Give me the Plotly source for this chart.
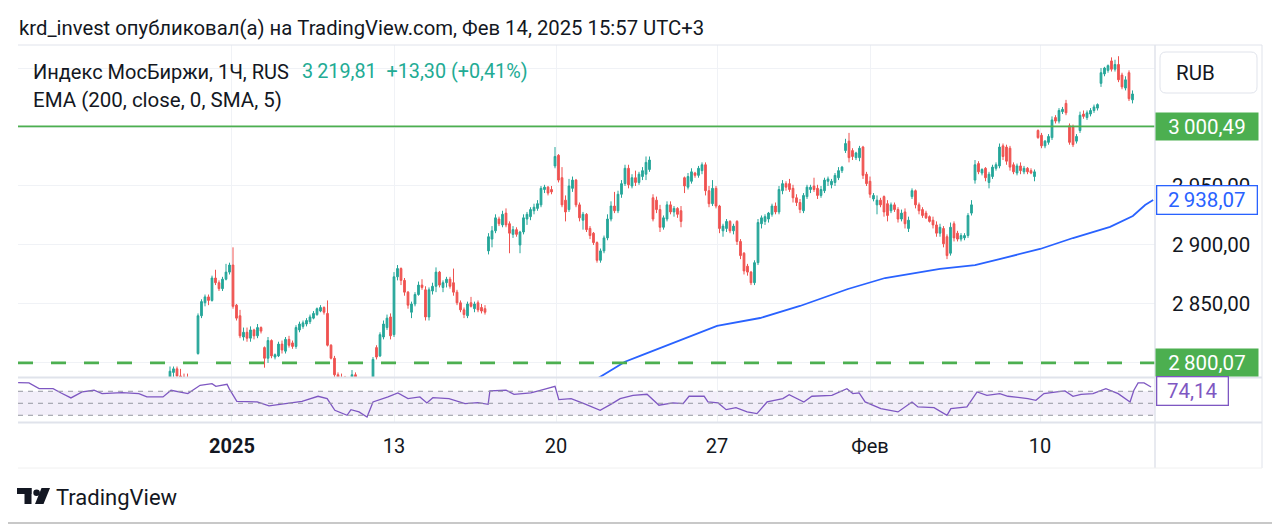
import plotly.graph_objects as go

W, H = 1280, 526
OFF = 8                     # default page margin around the plot div
FW, FH = W - OFF, H - OFF   # figure size that fits the window

# ---------------- data (hourly candles) ----------------
opens = [
    2785, 2792, 2795, 2789, 2788, 2786, 2784, 2778, 2808, 2840,
    2851, 2856, 2853, 2872, 2868, 2863, 2871, 2877, 2883, 2849,
    2840, 2822, 2826, 2821, 2828, 2823, 2830, 2813, 2804, 2819,
    2805, 2806, 2816, 2810, 2820, 2817, 2814, 2828, 2831, 2833,
    2835, 2838, 2841, 2844, 2847, 2842, 2815, 2804, 2790, 2785,
    2783, 2776, 2781, 2790, 2786, 2778, 2782, 2776, 2780, 2813,
    2806, 2822, 2830, 2839, 2824, 2873, 2880, 2870, 2860, 2843,
    2850, 2858, 2866, 2862, 2839, 2861, 2865, 2877, 2864, 2868,
    2871, 2868, 2860, 2851, 2845, 2840, 2851, 2846, 2851, 2847,
    2846, 2895, 2905, 2912, 2922, 2917, 2927, 2918, 2909, 2913,
    2900, 2911, 2922, 2924, 2929, 2931, 2934, 2947, 2949, 2947,
    2967, 2976, 2957, 2938, 2930, 2948, 2955, 2934, 2921, 2926,
    2914, 2910, 2902, 2887, 2895, 2906, 2922, 2933, 2929, 2943,
    2952, 2965, 2950, 2957, 2953, 2958, 2960, 2964, 2940, 2938,
    2930, 2915, 2922, 2934, 2928, 2931, 2929, 2957, 2949, 2954,
    2961, 2959, 2963, 2968, 2946, 2935, 2948, 2933, 2912, 2914,
    2920, 2912, 2920, 2903, 2893, 2882, 2877, 2868, 2885, 2918,
    2920, 2922, 2926, 2933, 2928, 2946, 2952, 2952, 2948, 2940,
    2936, 2929, 2941, 2947, 2950, 2948, 2942, 2946, 2954, 2951,
    2953, 2957, 2963, 2980, 2988, 2980, 2974, 2974, 2983, 2960,
    2954, 2939, 2934, 2938, 2941, 2935, 2929, 2934, 2930, 2922,
    2928, 2914, 2941, 2946, 2934, 2930, 2927, 2924, 2921, 2917,
    2910, 2914, 2907, 2893, 2918, 2910, 2905, 2906, 2908, 2927,
    2955, 2969, 2961, 2965, 2953, 2958, 2965, 2967, 2984, 2983,
    2982, 2968, 2961, 2967, 2962, 2965, 2963, 2958, 2997, 2993,
    2984, 2987, 2991, 3008, 3005, 3013, 3020, 3001, 3000, 2988,
    2997, 3011, 3008, 3011, 3014, 3016, 3037, 3045, 3048, 3056,
    3049, 3053, 3044, 3033, 3046, 3023,
]
highs = [
    2797, 2797, 2797, 2795, 2791, 2791, 2786, 2786, 2842, 2854,
    2858, 2858, 2874, 2879, 2870, 2873, 2884, 2885, 2898, 2850,
    2845, 2830, 2830, 2831, 2829, 2833, 2831, 2814, 2822, 2820,
    2808, 2818, 2819, 2822, 2823, 2819, 2832, 2835, 2836, 2838,
    2841, 2844, 2847, 2849, 2848, 2853, 2816, 2806, 2792, 2791,
    2789, 2784, 2794, 2792, 2788, 2785, 2786, 2784, 2805, 2815,
    2826, 2836, 2841, 2842, 2877, 2883, 2881, 2872, 2861, 2852,
    2860, 2869, 2871, 2865, 2864, 2868, 2881, 2878, 2870, 2873,
    2873, 2880, 2862, 2853, 2847, 2852, 2856, 2852, 2853, 2850,
    2849, 2910, 2916, 2926, 2924, 2929, 2931, 2920, 2916, 2915,
    2912, 2926, 2928, 2932, 2935, 2938, 2950, 2951, 2950, 2950,
    2983, 2977, 2966, 2942, 2956, 2958, 2956, 2936, 2928, 2927,
    2916, 2911, 2903, 2897, 2908, 2926, 2937, 2945, 2946, 2955,
    2968, 2968, 2960, 2963, 2962, 2966, 2975, 2975, 2943, 2941,
    2934, 2925, 2937, 2937, 2933, 2932, 2933, 2958, 2961, 2965,
    2962, 2967, 2970, 2970, 2950, 2955, 2950, 2934, 2918, 2922,
    2921, 2918, 2921, 2905, 2894, 2884, 2878, 2887, 2922, 2925,
    2926, 2928, 2935, 2936, 2950, 2955, 2954, 2956, 2951, 2943,
    2939, 2944, 2951, 2951, 2957, 2951, 2950, 2957, 2958, 2956,
    2961, 2966, 2967, 2990, 2995, 2982, 2979, 2984, 2984, 2962,
    2958, 2944, 2942, 2940, 2942, 2938, 2936, 2936, 2932, 2930,
    2931, 2924, 2948, 2947, 2936, 2932, 2929, 2925, 2924, 2920,
    2918, 2916, 2909, 2919, 2920, 2912, 2910, 2910, 2927, 2938,
    2972, 2971, 2965, 2966, 2962, 2968, 2970, 2986, 2986, 2985,
    2984, 2970, 2969, 2970, 2967, 2966, 2965, 2964, 2998, 2995,
    2989, 2994, 3009, 3010, 3016, 3017, 3023, 3003, 3002, 2994,
    3013, 3014, 3014, 3016, 3019, 3020, 3050, 3051, 3053, 3059,
    3057, 3060, 3046, 3043, 3048, 3031,
]
lows = [
    2783, 2788, 2786, 2784, 2780, 2782, 2775, 2774, 2807, 2838,
    2848, 2849, 2852, 2866, 2861, 2861, 2870, 2875, 2846, 2836,
    2821, 2819, 2818, 2818, 2820, 2821, 2825, 2796, 2800, 2804,
    2803, 2805, 2808, 2808, 2813, 2812, 2812, 2826, 2829, 2831,
    2833, 2837, 2840, 2843, 2841, 2814, 2803, 2788, 2780, 2778,
    2776, 2772, 2779, 2783, 2775, 2774, 2772, 2773, 2778, 2803,
    2805, 2820, 2828, 2820, 2822, 2870, 2866, 2857, 2846, 2838,
    2848, 2857, 2862, 2836, 2836, 2858, 2860, 2864, 2860, 2864,
    2863, 2857, 2849, 2843, 2838, 2838, 2847, 2843, 2843, 2842,
    2841, 2892, 2898, 2910, 2916, 2915, 2915, 2893, 2906, 2907,
    2893, 2909, 2917, 2921, 2926, 2929, 2932, 2944, 2942, 2943,
    2965, 2953, 2932, 2920, 2928, 2945, 2932, 2920, 2913, 2911,
    2905, 2900, 2885, 2885, 2893, 2904, 2920, 2927, 2927, 2940,
    2950, 2948, 2948, 2950, 2951, 2955, 2955, 2962, 2920, 2927,
    2911, 2913, 2920, 2926, 2924, 2923, 2915, 2944, 2947, 2952,
    2957, 2957, 2960, 2942, 2932, 2933, 2931, 2910, 2907, 2911,
    2910, 2909, 2900, 2888, 2875, 2874, 2866, 2866, 2883, 2914,
    2917, 2919, 2924, 2926, 2926, 2943, 2946, 2945, 2936, 2933,
    2927, 2927, 2939, 2944, 2945, 2939, 2940, 2944, 2950, 2948,
    2950, 2955, 2961, 2978, 2970, 2972, 2972, 2971, 2956, 2950,
    2940, 2937, 2926, 2932, 2924, 2920, 2927, 2928, 2919, 2920,
    2914, 2911, 2939, 2931, 2926, 2923, 2922, 2919, 2914, 2907,
    2907, 2898, 2888, 2891, 2903, 2903, 2903, 2904, 2906, 2925,
    2952, 2960, 2959, 2954, 2948, 2956, 2963, 2965, 2972, 2968,
    2963, 2960, 2959, 2960, 2960, 2960, 2960, 2954, 2990, 2982,
    2982, 2985, 2989, 3003, 3003, 3011, 3010, 2985, 2983, 2986,
    2995, 3007, 3006, 3009, 3012, 3014, 3034, 3043, 3046, 3047,
    3047, 3038, 3032, 3031, 3022, 3020,
]
closes = [
    2793, 2795, 2789, 2787, 2782, 2784, 2778, 2784, 2840, 2852,
    2856, 2853, 2872, 2868, 2863, 2871, 2877, 2883, 2848, 2838,
    2823, 2826, 2821, 2828, 2823, 2830, 2827, 2804, 2819, 2806,
    2807, 2816, 2811, 2820, 2815, 2814, 2830, 2833, 2834, 2836,
    2839, 2842, 2846, 2847, 2843, 2815, 2804, 2790, 2782, 2781,
    2779, 2781, 2790, 2786, 2778, 2782, 2776, 2780, 2803, 2805,
    2824, 2833, 2838, 2823, 2873, 2880, 2870, 2860, 2849, 2850,
    2858, 2866, 2864, 2839, 2862, 2865, 2877, 2866, 2868, 2871,
    2865, 2860, 2851, 2845, 2841, 2850, 2848, 2850, 2845, 2844,
    2843, 2907, 2912, 2923, 2918, 2926, 2917, 2910, 2913, 2909,
    2911, 2923, 2926, 2930, 2932, 2935, 2948, 2949, 2944, 2945,
    2975, 2955, 2934, 2928, 2950, 2955, 2934, 2923, 2926, 2913,
    2908, 2902, 2887, 2895, 2906, 2922, 2933, 2929, 2943, 2952,
    2965, 2951, 2957, 2953, 2960, 2963, 2970, 2972, 2922, 2930,
    2915, 2923, 2934, 2928, 2931, 2926, 2920, 2950, 2958, 2962,
    2959, 2965, 2968, 2946, 2935, 2948, 2933, 2914, 2916, 2920,
    2912, 2916, 2903, 2891, 2878, 2877, 2868, 2885, 2919, 2923,
    2924, 2927, 2933, 2928, 2947, 2952, 2949, 2947, 2940, 2936,
    2930, 2942, 2949, 2949, 2947, 2942, 2947, 2955, 2956, 2954,
    2959, 2963, 2966, 2986, 2974, 2975, 2978, 2982, 2959, 2952,
    2943, 2942, 2938, 2934, 2928, 2925, 2934, 2930, 2922, 2927,
    2918, 2921, 2946, 2934, 2929, 2925, 2923, 2920, 2917, 2910,
    2915, 2901, 2891, 2915, 2906, 2905, 2908, 2908, 2925, 2934,
    2968, 2962, 2964, 2957, 2960, 2966, 2968, 2983, 2975, 2971,
    2966, 2962, 2967, 2963, 2965, 2962, 2961, 2962, 2991, 2984,
    2988, 2992, 3006, 3005, 3014, 3015, 3012, 2987, 2985, 2992,
    3010, 3009, 3012, 3014, 3017, 3019, 3046, 3050, 3052, 3049,
    3053, 3040, 3034, 3040, 3024, 3028,
]

# EMA(200) line, read at a few bar positions
ema_bars = [120, 130, 134.3, 145.7, 156.3, 168.6, 180, 193.7, 204.3, 220,
            230, 237, 248.6, 258, 268.6, 275.1, 278.6, 280.9]
ema_vals = [2783, 2801, 2806, 2819.5, 2831.4, 2838.1, 2848.3, 2862.7, 2872, 2879.7,
            2883, 2888.1, 2896.6, 2905.9, 2915.3, 2924.6, 2933.9, 2938.07]

# RSI pane values
rsi_bars = [-43.4, -40.3, -37.4, -33.4, -31.1, -28.3, -25.1, -21.7, -19.4, -13.7,
            -8.9, -6.6, -2, 0.3, 5.1, 8.6, 12, 13.1, 16.3, 16.9,
            19.1, 24.9, 28.3, 33.1, 37.7, 42.3, 44.9, 47.1, 50.6, 51.7,
            54, 56.3, 58, 62.3, 65.1, 68, 71.4, 73.4, 75.1, 79.7,
            84.3, 88, 90.9, 91.4, 96, 98.3, 103.1, 106.6, 110, 111.1,
            114.6, 118.3, 122.9, 126.3, 128.6, 132.3, 136.3, 139.7, 143.7, 146.6,
            148.3, 152.6, 153.7, 156.6, 158.9, 161.7, 164.9, 167.7, 170.6, 175.1,
            176.9, 181.1, 183.4, 189.1, 193.4, 195.1, 196.9, 198.6, 203.1, 208,
            212, 213.7, 218.3, 222, 223.1, 227.7, 230.6, 233.4, 237.1, 239.4,
            241.7, 245.1, 247.4, 249.7, 253.4, 255.7, 258, 260.3, 263.7, 267.4,
            270.9, 274.3, 275.4, 276.6, 278.3, 280.3]
rsi_vals = [84.4, 83.9, 74.4, 74.4, 67.2, 58.9, 68.9, 71.7, 66.1, 67.8,
            66.1, 60.6, 60.6, 71.7, 66.1, 80, 82.8, 78.3, 81.7, 74.4,
            53.3, 52.2, 45.6, 49.4, 53.3, 61.7, 57.8, 38.3, 30, 39.4,
            35.6, 27.2, 52.2, 60.6, 67.2, 57.8, 60.6, 50.6, 59.4, 57.8,
            49.4, 51.1, 48.3, 70.6, 71.7, 65, 67.2, 72.8, 78.3, 56.1,
            57.8, 49.4, 38.3, 49.4, 57.8, 63.3, 65, 46.7, 50.6, 49.4,
            61.7, 61.7, 52.2, 50.6, 39.4, 42.8, 35.6, 32.8, 52.2, 57.8,
            64.4, 52.2, 61.7, 63.3, 74.4, 66.1, 67.2, 52.2, 41.1, 35.6,
            52.2, 43.9, 42.8, 30, 41.1, 43.9, 68.9, 63.3, 66.1, 61.7,
            60.6, 57.8, 55, 66.1, 68.9, 70.6, 61.7, 65, 66.1, 74.4,
            66.1, 52.2, 71.7, 83.9, 83.9, 77.2]

rsi_levels = [70, 50, 30]

tick_bars = [17.7, 64, 110.3, 156.3, 200, 248.6]
tick_text = ["<b>2025</b>", "13", "20", "27", "Фев", "10"]

price_ticks = [2800, 2850, 2900, 2950, 3000, 3050]
# labels at 2800 / 3000 / 3050 sit under the level boxes and the RUB box
price_tick_text = ["", "2 850,00", "2 900,00", "2 950,00", "", ""]
level_top = 3000.49
level_bottom = 2800.07

# ---------------- style ----------------
FONT = "Roboto"
TXT = "#131722"
UP = "#26a69a"
DOWN = "#ef5350"
GREEN = "#4caf50"
BLUE = "#2962ff"
PURPLE = "#7e57c2"
GRID = "#f0f2f6"
BORDER = "#e0e3eb"
FS = 20.5


def px(x):
    """window pixel -> paper fraction (x)"""
    return (x - OFF) / FW


def py(y):
    """window pixel -> paper fraction (y)"""
    return 1 - (y - OFF) / FH


bars = list(range(len(closes)))

fig = go.Figure()
fig.add_trace(go.Candlestick(
    x=bars, open=opens, high=highs, low=lows, close=closes,
    increasing=dict(line=dict(color=UP, width=1), fillcolor=UP),
    decreasing=dict(line=dict(color=DOWN, width=1), fillcolor=DOWN),
    whiskerwidth=0, showlegend=False, hoverinfo="skip",
    xaxis="x", yaxis="y",
))
fig.add_trace(go.Scatter(
    x=ema_bars, y=ema_vals, mode="lines",
    line=dict(color=BLUE, width=1.8), showlegend=False, hoverinfo="skip",
    xaxis="x", yaxis="y",
))
fig.add_trace(go.Scatter(
    x=rsi_bars, y=rsi_vals, mode="lines",
    line=dict(color=PURPLE, width=1.3), showlegend=False, hoverinfo="skip",
    xaxis="x2", yaxis="y2",
))

x_lo = (18 - 170) / 3.5
x_hi = (1155 - 170) / 3.5

shapes = []
# RSI band and level lines
shapes.append(dict(type="rect", xref="x2 domain", yref="y2", x0=0, x1=1,
                   y0=rsi_levels[2], y1=rsi_levels[0],
                   fillcolor="rgba(126,87,194,0.10)", line=dict(width=0),
                   layer="below"))
for lv in rsi_levels:
    shapes.append(dict(type="line", xref="x2 domain", yref="y2", x0=0, x1=1,
                       y0=lv, y1=lv, line=dict(color="#9598a1", width=1,
                                               dash="5px,5px")))
# horizontal price levels
shapes.append(dict(type="line", xref="x domain", yref="y", x0=0, x1=1,
                   y0=level_top, y1=level_top, line=dict(color=GREEN, width=1.6)))
shapes.append(dict(type="line", xref="x domain", yref="y", x0=0, x1=1,
                   y0=level_bottom, y1=level_bottom,
                   line=dict(color=GREEN, width=2.6, dash="15px,18px")))


def hline(y, x0, x1, color=BORDER, width=1):
    shapes.append(dict(type="line", xref="paper", yref="paper", x0=px(x0), x1=px(x1),
                       y0=py(y), y1=py(y), line=dict(color=color, width=width)))


def vline(x, y0, y1, color=BORDER, width=1):
    shapes.append(dict(type="line", xref="paper", yref="paper", x0=px(x), x1=px(x),
                       y0=py(y0), y1=py(y1), line=dict(color=color, width=width)))


# frame
hline(45, 18, 1262)
vline(1155, 45, 468, width=1.5)
vline(1262, 45, 468)
hline(377.5, 18, 1262, width=2)
hline(422.5, 18, 1262, width=2)
hline(468, 18, 1262, color="#f0f0f0")
hline(523, OFF, W, color="#c8c8c8", width=2)

# RUB box (rounded)
bx0, bx1, by0, by1, r = 1160, 1257, 52, 93, 6
path = (f"M {px(bx0 + r)},{py(by0)} L {px(bx1 - r)},{py(by0)} "
        f"Q {px(bx1)},{py(by0)} {px(bx1)},{py(by0 + r)} "
        f"L {px(bx1)},{py(by1 - r)} Q {px(bx1)},{py(by1)} {px(bx1 - r)},{py(by1)} "
        f"L {px(bx0 + r)},{py(by1)} Q {px(bx0)},{py(by1)} {px(bx0)},{py(by1 - r)} "
        f"L {px(bx0)},{py(by0 + r)} Q {px(bx0)},{py(by0)} {px(bx0 + r)},{py(by0)} Z")
shapes.append(dict(type="path", xref="paper", yref="paper", path=path,
                   fillcolor="white", line=dict(color=BORDER, width=1)))

# TradingView logo
shapes.append(dict(type="rect", xref="paper", yref="paper", x0=px(17), x1=px(31.5),
                   y0=py(494), y1=py(488), fillcolor=TXT, line=dict(width=0)))
shapes.append(dict(type="rect", xref="paper", yref="paper", x0=px(24.5), x1=px(31.5),
                   y0=py(504), y1=py(488), fillcolor=TXT, line=dict(width=0)))
shapes.append(dict(type="circle", xref="paper", yref="paper", x0=px(33.3), x1=px(39.9),
                   y0=py(496), y1=py(489.4), fillcolor=TXT, line=dict(width=0)))
shapes.append(dict(type="path", xref="paper", yref="paper",
                   path=(f"M {px(41.5)},{py(488)} L {px(50)},{py(488)} "
                         f"L {px(43.5)},{py(504)} L {px(35)},{py(504)} Z"),
                   fillcolor=TXT, line=dict(width=0)))

annotations = []


def note(text, x, y, size=FS, color=TXT, **kw):
    d = dict(text=text, x=px(x), y=py(y), xref="paper", yref="paper",
             xanchor="left", yanchor="middle", showarrow=False,
             font=dict(family=FONT, size=size, color=color))
    d.update(kw)
    annotations.append(d)


note("krd_invest опубликовал(а) на TradingView.com, Фев 14, 2025 15:57 UTC+3", 17, 28,
     size=20.3)
note("Индекс МосБиржи, 1Ч, RUS", 31, 72, size=20)
note("3\u2009219,81  +13,30 (+0,41%)", 300, 72, size=19.8, color="#22ab94")
note("EMA (200, close, 0, SMA, 5)", 31, 100)
note("TradingView", 54, 497, size=22)
note("RUB", 1174, 73)


def box(text, y, yref, x, width, bg, fg, border=None):
    d = dict(text=text, x=px(x), y=y, xref="paper", yref=yref,
             xanchor="left", yanchor="middle", showarrow=False,
             width=width, height=23, bgcolor=bg, borderpad=2,
             font=dict(family=FONT, size=FS, color=fg))
    if border:
        d.update(bordercolor=border, borderwidth=1.3)
    annotations.append(d)


box("3\u2009000,49", level_top, "y", 1155, 98, GREEN, "white")
box("2\u2009938,07", ema_vals[-1], "y", 1155.5, 95, "white", BLUE, border=BLUE)
box("2\u2009800,07", level_bottom, "y", 1155, 98, GREEN, "white")
box("74,14", py(391), "paper", 1156, 66, "white", PURPLE, border=PURPLE)

fig.update_layout(
    width=FW, height=FH, autosize=False,
    margin=dict(l=0, r=0, t=0, b=0),
    paper_bgcolor="white", plot_bgcolor="white",
    showlegend=False, hovermode=False,
    font=dict(family=FONT, color=TXT),
    xaxis=dict(domain=[px(18), px(1155)], anchor="y", range=[x_lo, x_hi],
               tickvals=tick_bars, showticklabels=False, ticks="",
               showgrid=True, gridcolor=GRID, gridwidth=1, zeroline=False,
               showline=False, rangeslider=dict(visible=False), fixedrange=True),
    yaxis=dict(domain=[py(377), py(45)], anchor="x", side="right",
               range=[2788.1, 3069.5], tickvals=price_ticks, ticktext=price_tick_text,
               ticks="outside", ticklen=12, tickcolor="rgba(0,0,0,0)",
               tickfont=dict(family=FONT, size=FS, color=TXT),
               showgrid=True, gridcolor=GRID, gridwidth=1, zeroline=False,
               showline=False, fixedrange=True),
    xaxis2=dict(domain=[px(18), px(1155)], anchor="y2", range=[x_lo, x_hi],
                matches="x", tickvals=tick_bars, ticktext=tick_text,
                ticks="outside", ticklen=6, tickcolor="rgba(0,0,0,0)",
                tickfont=dict(family=FONT, size=20, color=TXT),
                showgrid=True, gridcolor=GRID, gridwidth=1, zeroline=False,
                showline=False, fixedrange=True),
    yaxis2=dict(domain=[py(422), py(377)], anchor="x2", range=[18.8, 93.8],
                showgrid=False, showticklabels=False, ticks="", zeroline=False,
                showline=False, fixedrange=True),
    shapes=shapes,
    annotations=annotations,
)

fig.write_html("out.html")
